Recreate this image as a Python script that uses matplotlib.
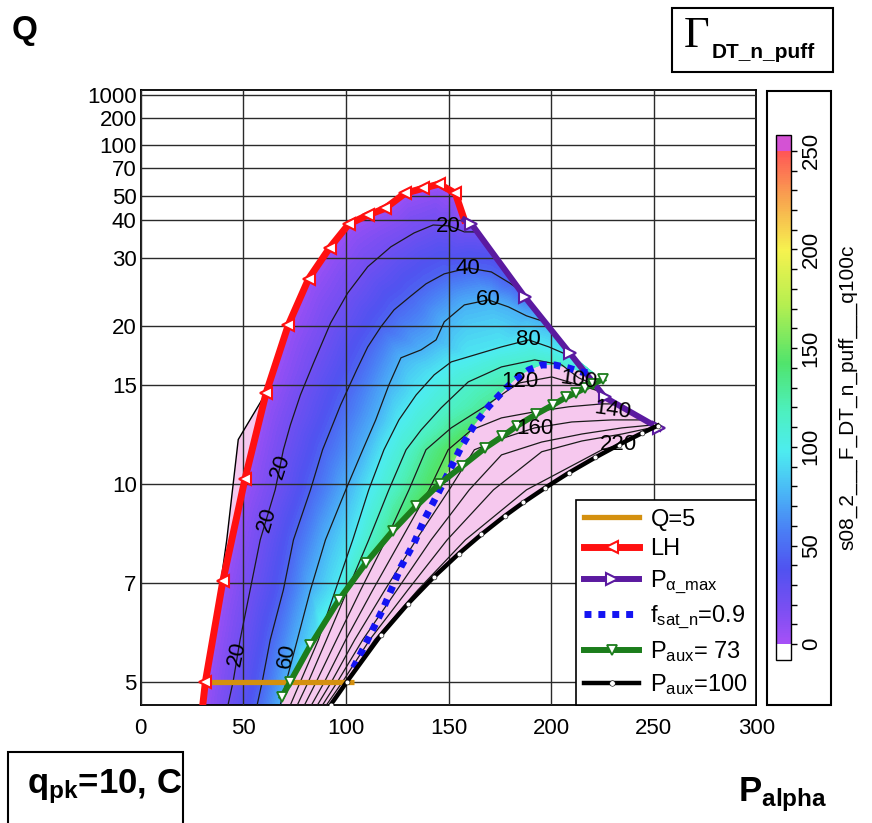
import numpy as np
import matplotlib
matplotlib.use("Agg")
import matplotlib.pyplot as plt
import matplotlib.tri as mtri
from matplotlib.colors import LinearSegmentedColormap, Normalize
from matplotlib.cm import ScalarMappable
from matplotlib.lines import Line2D
from matplotlib.patches import Rectangle
from matplotlib.path import Path
from matplotlib.ticker import MultipleLocator, NullLocator

W, H = 872, 823

plt.rcParams['font.family'] = ['Liberation Sans', 'DejaVu Sans']
plt.rcParams['mathtext.fontset'] = 'custom'
plt.rcParams['mathtext.rm'] = 'Liberation Sans'
plt.rcParams['mathtext.it'] = 'Liberation Sans:italic'
plt.rcParams['mathtext.bf'] = 'Liberation Sans:bold'

# ---------------- data: (P_alpha, Q) ----------------
x_ticks = [0, 50, 100, 150, 200, 250, 300]
q_ticks = [5, 7, 10, 15, 20, 30, 40, 50, 70, 100, 200, 1000]
Q_BOTTOM, Q_TOP = 4.62, 4500

q5_p = [30.0, 104.0]
q5_q = [5.0, 5.0]

lh_p = [30.2, 31.5, 40.0, 50.8, 61.1, 71.9, 81.8, 92.1, 101.4, 110.6, 119.0, 128.8, 137.6, 145.4, 153.3, 157.7]
lh_q = [4.62, 5.0, 7.05, 10.2, 14.5, 20.1, 26.2, 32.3, 38.8, 41.9, 44.5, 51.7, 54.5, 57.2, 51.7, 40.2]

pam_p = [157.7, 161.1, 187.1, 209.2, 226.3, 252.8]
pam_q = [40.2, 38.9, 23.5, 17.4, 14.2, 12.45]

fsat_p = [103.7, 110.6, 118.5, 126.8, 133.2, 138.1, 145.0, 151.3, 156.2, 162.6, 169.4,
          175.8, 182.2, 189.1, 195.4, 201.8, 208.7, 215.0, 220.9]
fsat_q = [5.24, 5.76, 6.44, 7.4, 8.05, 8.75, 9.67, 10.67, 11.55, 12.63, 13.64,
          14.49, 15.36, 16.08, 16.46, 16.46, 16.22, 15.92, 15.85]

p73_p = [68.8, 72.9, 82.7, 96.6, 109.7, 122.7, 134.2, 145.6, 156.5, 167.8, 176.2,
         183.6, 192.5, 200.9, 207.1, 212.1, 216.5, 220.4, 225.3]
p73_q = [4.75, 5.0, 5.65, 6.6, 7.5, 8.4, 9.2, 10.0, 10.7, 11.5, 12.05,
         12.6, 13.2, 13.75, 14.2, 14.5, 14.8, 15.1, 15.4]

p100_p = [92.5, 100.5, 117.0, 130.0, 143.0, 155.0, 166.0, 177.5, 186.5, 197.0, 208.5, 221.6, 233.0, 244.4, 252.0]
p100_q = [4.62, 5.0, 5.85, 6.5, 7.15, 7.75, 8.3, 8.88, 9.33, 9.85, 10.43, 11.08, 11.65, 12.22, 12.6]

# left edge of the scanned domain
left_p = [29.8, 33.7, 41.9, 47.5, 61.1]
left_q = [4.62, 5.38, 8.14, 11.9, 14.5]

# contour lines of the scanned quantity
c20_p = [42.5, 45.0, 48.4, 53.3, 58.2, 65.5, 69.5, 72.9, 77.8, 84.2, 92.5, 100.8, 110.6, 121.9, 133.2, 142.5, 150.3, 157.7, 164.1]
c20_q = [4.62, 5.0, 5.76, 6.83, 8.14, 9.78, 11.42, 12.63, 14.36, 16.62, 20.3, 24.0, 28.3, 32.5, 36.1, 38.5, 38.2, 36.4, 36.4]
c40_p = [56.7, 59.2, 63.1, 69.5, 74.4, 82.7, 88.6, 97.4, 105.2, 110.6, 117.0, 123.4, 131.7, 139.0, 147.9, 159.6, 170.9, 179.7, 184.6]
c40_q = [4.62, 5.0, 5.76, 6.83, 8.14, 9.78, 11.42, 13.75, 16.08, 17.96, 19.89, 21.8, 23.62, 25.38, 27.02, 28.07, 27.35, 25.53, 24.46]
c60_p = [68.0, 70.9, 76.3, 82.7, 90.0, 99.9, 108.2, 114.5, 120.9, 126.8, 136.6, 143.9, 147.9, 157.7, 169.4, 179.2, 188.0, 196.9]
c60_q = [4.62, 5.0, 5.76, 6.83, 8.14, 9.78, 11.42, 12.9, 15.01, 17.03, 17.7, 18.6, 20.43, 22.42, 23.07, 22.17, 21.1, 20.43]
c80_p = [72.9, 77.8, 86.6, 94.9, 103.3, 111.1, 118.5, 125.8, 134.2, 143.0, 151.3, 159.6, 175.8, 189.1, 198.9, 210.1]
c80_q = [4.62, 5.0, 5.76, 6.83, 8.14, 9.78, 11.42, 12.9, 14.36, 15.72, 16.7, 17.11, 17.96, 18.6, 17.96, 17.11]
c100_p = [76.3, 81.7, 90.5, 100.8, 111.1, 120.9, 129.3, 136.6, 146.4, 159.6, 175.8, 192.0, 205.2, 213.5, 221.4]
c100_q = [4.62, 5.0, 5.76, 6.83, 8.14, 9.78, 11.42, 12.37, 13.58, 15.22, 16.31, 16.86, 16.46, 15.5, 15.01]
c120_p = [79.8, 85.6, 95.4, 107.2, 119.5, 130.7, 139.0, 151.3, 167.5, 179.2, 184.6, 200.3, 218.5, 222.9]
c120_q = [4.62, 5.0, 5.76, 6.83, 8.14, 9.78, 11.42, 12.48, 13.64, 14.68, 15.15, 15.57, 14.81, 14.62]
c140_p = [83.2, 89.6, 99.9, 113.1, 126.8, 140.5, 149.8, 161.1, 175.8, 192.0, 208.7, 224.8, 231.7]
c140_q = [4.62, 5.0, 5.76, 6.83, 8.14, 9.78, 11.42, 12.37, 13.01, 13.35, 13.64, 13.81, 13.81]
c160_p = [86.1, 93.0, 104.3, 119.0, 134.2, 150.3, 162.6, 178.3, 192.0, 210.1, 229.7, 245.4]
c160_q = [4.62, 5.0, 5.76, 6.83, 8.14, 9.78, 11.42, 12.02, 12.48, 12.79, 12.9, 12.9]
c180_p = [88.6, 95.9, 108.2, 124.9, 141.5, 160.1, 175.8, 195.4, 215.0, 234.6, 249.3]
c180_q = [4.62, 5.0, 5.76, 6.83, 8.14, 9.78, 11.19, 11.78, 12.17, 12.48, 12.63]
c200_p = [90.5, 98.4, 111.6, 130.2, 149.3, 171.9, 195.4, 215.0, 234.6, 250.8]
c200_q = [4.62, 5.0, 5.76, 6.83, 8.14, 9.78, 11.33, 11.83, 12.17, 12.53]
c220_p = [92.0, 99.9, 114.0, 135.1, 158.2, 188.0, 224.8, 233.2, 244.4, 251.8]
c220_q = [4.62, 5.0, 5.76, 6.83, 8.14, 9.78, 11.42, 11.65, 12.12, 12.48]

contour_levels = [20, 40, 60, 80, 100, 120, 140, 160, 180, 200, 220]
# colour-bar value seen along each contour line (the fill runs a bit ahead of the labels)
colour_at_level = [22, 45, 75, 95, 112, 128, 145, 160, 175, 190, 205]
LH_VALUE = 4   # colour-bar value on the LH edge (violet)

lab_p = [46.8, 61.5, 68.0, 71.3, 149.7, 159.5, 169.3, 188.9, 184.8, 213.4, 229.8, 192.2, 233.0]
lab_q = [5.5, 8.75, 10.68, 5.45, 38.0, 28.0, 23.07, 18.6, 15.24, 15.36, 13.46, 12.46, 11.65]
lab_t = ['20', '20', '20', '60', '20', '40', '60', '80', '120', '100', '140', '160', '220']
lab_rot = [78, 74, 72, 80, 0, 0, 0, 0, 0, -8, -8, 0, 0]

cb_ticks = [0, 50, 100, 150, 200, 250]

contour_p = [c20_p, c40_p, c60_p, c80_p, c100_p, c120_p, c140_p, c160_p, c180_p, c200_p, c220_p]
contour_q = [c20_q, c40_q, c60_q, c80_q, c100_q, c120_q, c140_q, c160_q, c180_q, c200_q, c220_q]

# ---------------- styling ----------------
ORANGE = '#d4900f'
RED = '#ff1010'
PURPLE = '#5b1aa0'
BLUE = '#1414f2'
GREEN = '#1c7d1c'
PINK = '#f6c8ee'

cmap = LinearSegmentedColormap.from_list('scan', [
    (0.00, '#a650f7'), (0.07, '#7a4ff2'), (0.15, '#5052f0'), (0.23, '#4a7ff5'),
    (0.31, '#4ab8f6'), (0.39, '#4decf0'), (0.47, '#4df0c0'), (0.57, '#50e46c'),
    (0.69, '#b6ef50'), (0.80, '#f6f24f'), (0.90, '#f8a84f'), (1.00, '#ff5656')])
cmap.set_under('white')
cmap.set_over('#d452d4')
norm = Normalize(0, 250)


def q_to_f(q):
    q = np.maximum(np.asarray(q, dtype=float), 0.0)
    return q / (q + 5.0)


def f_to_q(f):
    f = np.clip(np.asarray(f, dtype=float), 0.0, 0.99999)
    return 5.0 * f / (1.0 - f)


def fx(x):
    return x / W


def fy(y):
    return 1 - y / H


fig = plt.figure(figsize=(W / 100, H / 100), dpi=100)
ax = fig.add_axes([fx(140.8), fy(705), (756.3 - 140.8) / W, (705 - 90) / H])
ax.set_yscale('function', functions=(q_to_f, f_to_q))

# whole scanned domain (pink = excluded part)
dom_p = left_p + lh_p[5:] + pam_p[1:] + p100_p[::-1]
dom_q = left_q + lh_q[5:] + pam_q[1:] + p100_q[::-1]
ax.fill(dom_p, dom_q, color=PINK, lw=0, zorder=1)
dom_path = Path(np.column_stack([dom_p, dom_q]))

# allowed region: LH, P_alpha_max, then f_sat / P_aux=73 whichever is tighter
bp, bq = np.array(fsat_p), np.array(fsat_q)
gp, gq = np.array(p73_p), np.array(p73_q)
sb, sg = bp >= 148, gp <= 146
col_p = np.concatenate([lh_p, pam_p[1:4], bp[sb][::-1], gp[sg][::-1], [gp[0]]])
col_q = np.concatenate([lh_q, pam_q[1:4], bq[sb][::-1], gq[sg][::-1], [Q_BOTTOM]])
col_path = Path(np.column_stack([col_p, col_q]))

fp = list(lh_p)
fq = list(lh_q)
fz = [LH_VALUE] * len(lh_p)
for cv, cp, cq in zip(colour_at_level, contour_p, contour_q):
    fp += cp
    fq += cq
    fz += [cv] * len(cp)
fp, fq, fz = np.array(fp), np.array(fq), np.array(fz, dtype=float)
tri_s = mtri.Triangulation(fp / 300.0, (q_to_f(fq) - 0.48) / 0.52)
tri = mtri.Triangulation(fp, fq, triangles=tri_s.triangles)
cs = ax.tricontourf(tri, fz, levels=np.linspace(0, 250, 126), cmap=cmap, norm=norm,
                    extend='both', zorder=1.5)
cs.set_clip_path(col_path, ax.transData)

for cp, cq in zip(contour_p, contour_q):
    ln, = ax.plot(cp, cq, color='#1a1a1a', lw=0.9, zorder=3)
    ln.set_clip_path(dom_path, ax.transData)

for p, q, t, r in zip(lab_p, lab_q, lab_t, lab_rot):
    ax.text(p, q, t, fontsize=16, ha='center', va='center', rotation=r, zorder=7)

ax.plot(left_p, left_q, color='k', lw=1.0, zorder=4)
ax.plot(q5_p, q5_q, color=ORANGE, lw=3.8, zorder=4, solid_capstyle='butt')
ax.plot(lh_p, lh_q, color=RED, lw=5, marker='<', ms=8, mfc='white', mec=RED, mew=1.5,
        markevery=list(range(1, 15)), zorder=5)
ax.plot(pam_p, pam_q, color=PURPLE, lw=4.3, marker='>', ms=8.5, mfc='white', mec=PURPLE,
        mew=1.5, markevery=[1, 2, 3, 4, 5], zorder=5)
ax.plot(fsat_p, fsat_q, color=BLUE, lw=5, ls=(0, (1, 1)), dash_capstyle='butt', zorder=5)
ax.plot(p73_p, p73_q, color=GREEN, lw=4.3, marker='v', ms=7.5, mfc='white', mec=GREEN,
        mew=1.3, zorder=6)
ax.plot(p100_p, p100_q, color='k', lw=3.2, marker='o', ms=3.5, mfc='white', mec='k',
        mew=0.4, zorder=6)

handles = [
    Line2D([], [], color=ORANGE, lw=3.8),
    Line2D([], [], color=RED, lw=5, marker='<', ms=8, mfc='white', mec=RED, mew=1.5),
    Line2D([], [], color=PURPLE, lw=4.3, marker='>', ms=8.5, mfc='white', mec=PURPLE, mew=1.5),
    Line2D([], [], color=BLUE, lw=5, ls=(0, (1, 1)), dash_capstyle='butt'),
    Line2D([], [], color=GREEN, lw=4.3, marker='v', ms=7.5, mfc='white', mec=GREEN, mew=1.3),
    Line2D([], [], color='k', lw=3.2, marker='o', ms=4, mfc='white', mec='k', mew=0.4),
]
labels = ['Q=5', 'LH', r'P$_{\mathrm{\alpha\_max}}$', r'f$_{\mathrm{sat\_n}}$=0.9',
          r'P$_{\mathrm{aux}}$= 73', r'P$_{\mathrm{aux}}$=100']
leg = ax.legend(handles, labels, loc='lower right', bbox_to_anchor=(1, 0), borderaxespad=0,
                fontsize=17, handlelength=2.3, numpoints=1, labelspacing=0.33, borderpad=0.35,
                handletextpad=0.5, fancybox=False, framealpha=1, edgecolor='k')
leg.get_frame().set_linewidth(1.2)
leg.set_zorder(10)

ax.set_xlim(0, 300)
ax.set_ylim(Q_BOTTOM, Q_TOP)
ax.set_xticks(x_ticks)
ax.set_yticks(q_ticks)
ax.set_yticklabels([str(t) for t in q_ticks])
ax.yaxis.set_minor_locator(NullLocator())
ax.tick_params(which='both', direction='in', length=0, labelsize=16)
ax.tick_params(axis='x', pad=9)
ax.tick_params(axis='y', pad=3)
ax.grid(True, color='#2a2a2a', lw=1.0)
ax.set_axisbelow(False)
for s in ax.spines.values():
    s.set_linewidth(1.3)

# colorbar in its own framed box
cax = fig.add_axes([fx(776), fy(660), 15 / W, 525 / H])
cb = fig.colorbar(ScalarMappable(norm=norm, cmap=cmap), cax=cax, extend='both',
                  extendrect=True, extendfrac=0.032)
cb.set_ticks(cb_ticks)
cb.ax.yaxis.set_minor_locator(MultipleLocator(10))
cb.ax.tick_params(which='both', direction='out', length=4, width=1, labelsize=16, pad=3)
for t in cb.ax.get_yticklabels():
    t.set_rotation(90)
    t.set_va('center')
cb.outline.set_linewidth(1)
cb.set_label('s08_2___F_DT_n_puff___q100c', fontsize=15, labelpad=12)
fig.add_artist(Rectangle((fx(767), fy(705)), 64 / W, 614 / H, transform=fig.transFigure,
                         fill=False, lw=1.5, ec='k'))

# corner annotations
fig.text(fx(12), fy(30), 'Q', fontsize=24, fontweight='bold', va='center', ha='left')
fig.add_artist(Rectangle((fx(672), fy(72)), 161 / W, 64 / H, transform=fig.transFigure,
                         fill=False, lw=1.5, ec='k'))
fig.text(fx(684), fy(36), '\u0393', family='Liberation Serif', fontsize=32, va='center', ha='left')
fig.text(fx(712), fy(52), 'DT_n_puff', fontsize=15, fontweight='bold', va='center', ha='left')
fig.add_artist(Rectangle((fx(8), -0.05), 175 / W, 71 / H + 0.05, transform=fig.transFigure,
                         fill=False, lw=1.5, ec='k'))
fig.text(fx(27), fy(787), r'$\mathbf{q}_{\mathbf{pk}}$=10, C', fontsize=25, fontweight='bold',
         va='center', ha='left')
fig.text(fx(738), fy(795), r'$\mathbf{P}_{\mathbf{alpha}}$', fontsize=25, va='center', ha='left')

fig.savefig('out.png', dpi=100)
